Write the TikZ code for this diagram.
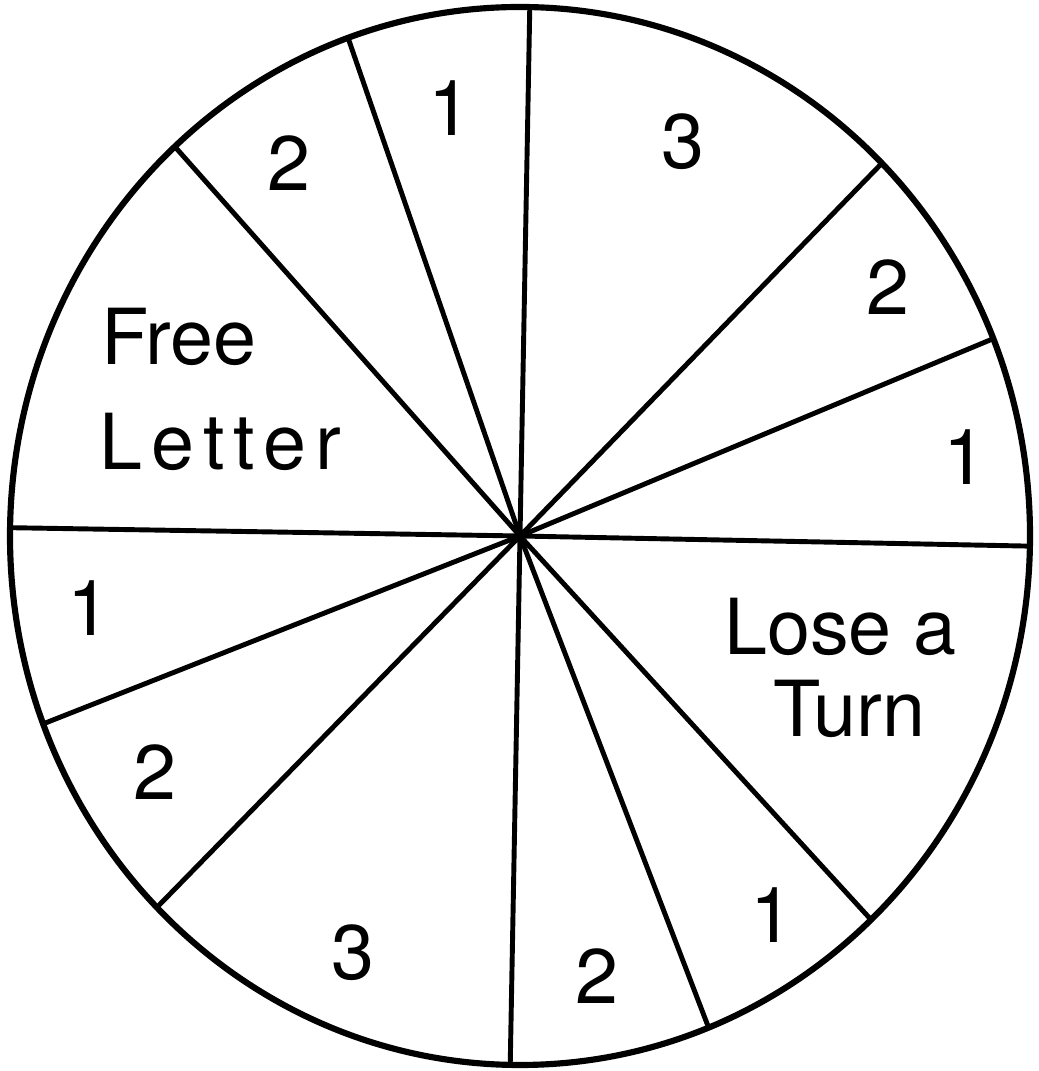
\documentclass[tikz,border=0pt]{standalone}
\usepackage{fontspec}
\setmainfont{TeX Gyre Heros}

\begin{document}
\begin{tikzpicture}[x=0.02cm, y=0.02cm,
    rim/.style={line width=3.5pt},
    spoke/.style={line width=2.8pt},
    num/.style={font=\fontsize{44}{50}\selectfont, inner sep=0pt},
    word/.style={font=\fontsize{44}{50}\selectfont, inner sep=0pt, anchor=base west}
]
\useasboundingbox (0,0) rectangle (1038,1071);
\coordinate (hub) at (520,535);

% wheel and its twelve spokes
\draw [rim] (hub) ellipse [x radius=510, y radius=529];
\foreach \a in {88.9,109.7,132.6,179.1,200.8,224.6,268.9,291.7,313.5,358.9,21.9,44.8}
  \draw [spoke] (hub) -- ++(\a:510 and 529);

% points in each sector
\node (onetop)   [num] at (450,963) {1};
\node (threetop) [num] at (683,929) {3};
\node (twotl)    [num] at (289,908) {2};
\node (twotr)    [num] at (888,784) {2};
\node (oner)     [num] at (965,614) {1};
\node (onel)     [num] at (89,463)  {1};
\node (twobl)    [num] at (155,299) {2};
\node (onebr)    [num] at (772,156) {1};
\node (threebot) [num] at (353,118) {3};
\node (twobot)   [num] at (597,95)  {2};

% special sectors
\node (free)   [word] at (101,706) {Free};
\node (letter) [word] at (99,601)  {\addfontfeatures{LetterSpace=12}Letter};
\node (lose)   [word] at (724,416) {Lose a};
\node (turn)   [word] at (773,334) {Turn};
\end{tikzpicture}
\end{document}
